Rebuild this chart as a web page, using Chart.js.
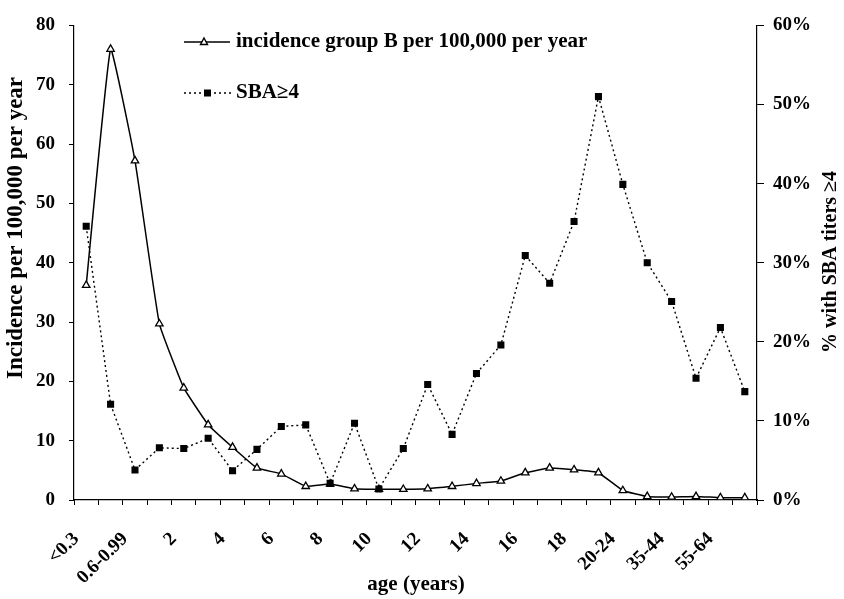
<!DOCTYPE html>
<html>
<head>
<meta charset="utf-8">
<script src="https://cdn.jsdelivr.net/npm/chart.js@4"></script>
<style>
  html, body { margin: 0; padding: 0; background: #fff; }
  #wrap { width: 844px; height: 599px; }
</style>
</head>
<body>
<div id="wrap"><canvas id="chart" width="844" height="599"></canvas></div>
<script>
// age groups (every other one gets a tick label, like the original)
const categories = ['<0.3', '0.3-0.59', '0.6-0.99', '1', '2', '3', '4', '5', '6', '7', '8', '9',
  '10', '11', '12', '13', '14', '15', '16', '17', '18', '19', '20-24', '25-34', '35-44',
  '45-54', '55-64', '65+'];

// incidence group B per 100,000 per year (left axis)
const incidence = [36.2, 76.0, 57.2, 29.7, 18.9, 12.7, 8.9, 5.4, 4.4, 2.3, 2.7, 1.9, 1.8,
  1.8, 1.9, 2.3, 2.8, 3.2, 4.6, 5.4, 5.1, 4.6, 1.6, 0.6, 0.5, 0.6, 0.4, 0.4];

// % with SBA titers >= 4 (right axis)
const sba = [34.6, 12.1, 3.8, 6.6, 6.5, 7.8, 3.7, 6.4, 9.3, 9.5, 2.1, 9.7, 1.4, 6.5, 14.6,
  8.3, 16.0, 19.6, 30.9, 27.4, 35.2, 51.0, 39.9, 30.0, 25.1, 15.4, 21.8, 13.7];

const leftTicks = [0, 10, 20, 30, 40, 50, 60, 70, 80];
const rightTicks = [0, 10, 20, 30, 40, 50, 60];

const FONT = '"Liberation Serif", "DejaVu Serif", serif';
const tickFont = { family: FONT, size: 19, weight: 'bold' };

Chart.defaults.color = '#000';

// titles and the in-plot legend are drawn by hand so they sit like the original
const extras = {
  id: 'extras',
  afterDraw(chart) {
    const ctx = chart.ctx;
    ctx.save();
    ctx.fillStyle = '#000';
    ctx.strokeStyle = '#000';
    ctx.textAlign = 'center';
    ctx.textBaseline = 'middle';

    // left title
    ctx.save();
    ctx.font = 'bold 23px ' + FONT;
    ctx.translate(16, 228);
    ctx.rotate(-Math.PI / 2);
    ctx.fillText('Incidence per 100,000 per year', 0, 0);
    ctx.restore();

    // right title
    ctx.save();
    ctx.font = 'bold 20px ' + FONT;
    ctx.translate(831, 262);
    ctx.rotate(-Math.PI / 2);
    ctx.fillText('% with SBA titers \u22654', 0, 0);
    ctx.restore();

    // x title
    ctx.font = 'bold 21px ' + FONT;
    ctx.fillText('age (years)', 416, 585);

    // legend
    ctx.textAlign = 'left';
    ctx.font = 'bold 21px ' + FONT;
    // row 1: solid + open triangle
    ctx.lineWidth = 1.4;
    ctx.setLineDash([]);
    ctx.beginPath();
    ctx.moveTo(184, 42); ctx.lineTo(230, 42);
    ctx.stroke();
    ctx.beginPath();
    ctx.moveTo(204, 38); ctx.lineTo(207.5, 44.5); ctx.lineTo(200.5, 44.5); ctx.closePath();
    ctx.fillStyle = '#fff'; ctx.fill(); ctx.stroke();
    ctx.fillStyle = '#000';
    ctx.fillText('incidence group B per 100,000 per year', 236, 42);
    // row 2: dotted + filled square
    ctx.setLineDash([2, 3]);
    ctx.beginPath();
    ctx.moveTo(184, 93); ctx.lineTo(231, 93);
    ctx.stroke();
    ctx.setLineDash([]);
    ctx.fillRect(204, 89.5, 7, 7);
    ctx.fillText('SBA\u22654', 236, 93);
    ctx.restore();
  }
};

new Chart(document.getElementById('chart').getContext('2d'), {
  type: 'line',
  data: {
    labels: categories,
    datasets: [
      {
        label: 'incidence group B per 100,000 per year',
        data: incidence,
        yAxisID: 'y',
        borderColor: '#000',
        borderWidth: 1.5,
        tension: 0.1,
        pointStyle: 'triangle',
        pointRadius: 4.3,
        pointBackgroundColor: '#fff',
        pointBorderColor: '#000',
        pointBorderWidth: 1.3,
        order: 1
      },
      {
        label: 'SBA\u22654',
        data: sba,
        yAxisID: 'y1',
        borderColor: '#000',
        borderWidth: 1.4,
        borderDash: [2, 3],
        tension: 0,
        pointStyle: 'rect',
        pointRadius: 5,
        pointBackgroundColor: '#000',
        pointBorderColor: '#000',
        pointBorderWidth: 0,
        order: 0
      }
    ]
  },
  options: {
    responsive: false,
    animation: false,
    layout: { padding: { top: 20, left: 0, right: 0, bottom: 0 } },
    plugins: { legend: { display: false }, tooltip: { enabled: false } },
    scales: {
      x: {
        offset: true,
        grid: { offset: true, drawOnChartArea: false, tickLength: 5, color: '#000' },
        border: { color: '#000', width: 1.2 },
        ticks: {
          autoSkip: false,
          minRotation: 45,
          maxRotation: 45,
          labelOffset: -10,
          padding: 23,
          font: tickFont,
          callback: (v, i) => (i % 2 === 0 ? categories[i] : '')
        },
        afterFit: s => { s.height = 99; }
      },
      y: {
        position: 'left',
        min: leftTicks[0],
        max: leftTicks[leftTicks.length - 1],
        afterBuildTicks: s => { s.ticks = leftTicks.map(v => ({ value: v })); },
        grid: { drawOnChartArea: false, tickLength: 5, color: '#000' },
        border: { color: '#000', width: 1.2 },
        ticks: { font: tickFont, padding: 14 },
        afterFit: s => { s.width = 74; }
      },
      y1: {
        position: 'right',
        min: rightTicks[0],
        max: rightTicks[rightTicks.length - 1],
        afterBuildTicks: s => { s.ticks = rightTicks.map(v => ({ value: v })); },
        grid: { drawOnChartArea: false, tickLength: 7, color: '#000' },
        border: { color: '#000', width: 1.2 },
        ticks: { font: tickFont, padding: 9, callback: v => v + '%' },
        afterFit: s => { s.width = 87; }
      }
    }
  },
  plugins: [extras]
});
</script>
</body>
</html>
